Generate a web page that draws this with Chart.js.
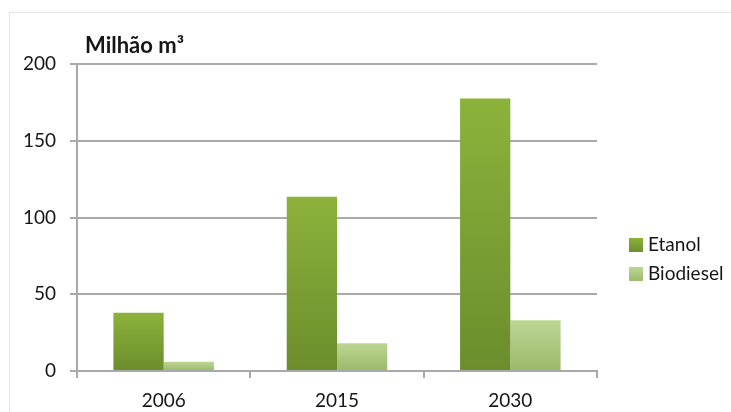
<!DOCTYPE html>
<html>
<head>
<meta charset="utf-8">
<script src="https://cdn.jsdelivr.net/npm/chart.js@4.4.0/dist/chart.umd.min.js"></script>
<style>
    body { margin: 0; background: #fff; }
    #wrap { position: relative; width: 731px; height: 412px; overflow: hidden; font-family: Lato, sans-serif; }
    #frame { position: absolute; left: 9px; top: 12px; width: 760px; height: 440px; border: 1px solid #e4e4e4; }
    #unit { position: absolute; left: 85px; top: 31px; font-weight: bold; font-size: 22px; color: #161616; }
    canvas { position: absolute; left: 0; top: 0; }
    .lg { position: absolute; left: 629px; font-size: 19px; color: #161616; line-height: 20px; }
    .lg span { display: inline-block; width: 14px; height: 14px; margin-right: 5px; vertical-align: -1px; }
</style>
</head>
<body>
<div id="wrap">
    <div id="frame"></div>
    <canvas id="chart" width="731" height="412"></canvas>
    <div id="unit">Milhão m³</div>
    <div class="lg" style="top:234px"><span style="background:linear-gradient(#8db23b,#6d8f2d)"></span>Etanol</div>
    <div class="lg" style="top:263px"><span style="background:linear-gradient(#bcd692,#9dba6c)"></span>Biodiesel</div>
</div>
<script>
// ============= DATA =============
const categories = ['2006', '2015', '2030'];
const etanol = [38, 113.5, 177.5];
const biodiesel = [6, 18, 33];
const yTicks = [0, 50, 100, 150, 200];

// vertical gradient per bar, top colour -> bottom colour
function barGradient(top, bottom) {
    return (ctx) => {
        const chart = ctx.chart;
        const area = chart.chartArea;
        if (!area || ctx.parsed === undefined) return bottom;
        const y = chart.scales.y.getPixelForValue(ctx.parsed.y);
        const g = chart.ctx.createLinearGradient(0, y, 0, area.bottom);
        g.addColorStop(0, top);
        g.addColorStop(1, bottom);
        return g;
    };
}

const gridColor = '#a9a9a9';

new Chart(document.getElementById('chart'), {
    type: 'bar',
    data: {
        labels: categories,
        datasets: [
            {
                label: 'Etanol',
                data: etanol,
                backgroundColor: barGradient('#8db23b', '#6b8d2c'),
                borderWidth: 0
            },
            {
                label: 'Biodiesel',
                data: biodiesel,
                backgroundColor: barGradient('#bcd692', '#9bb86a'),
                borderWidth: 0
            }
        ]
    },
    options: {
        responsive: false,
        animation: false,
        layout: { padding: { top: 64, right: 134, bottom: 0, left: 0 } },
        datasets: { bar: { categoryPercentage: 0.58, barPercentage: 1 } },
        plugins: {
            legend: { display: false },
            tooltip: { enabled: false }
        },
        scales: {
            x: {
                afterFit: (scale) => { scale.height = 41; },
                grid: { drawOnChartArea: false, color: gridColor, lineWidth: 2, tickLength: 7 },
                border: { color: gridColor, width: 2 },
                ticks: { color: '#161616', font: { family: 'Lato', size: 19 }, padding: 11 }
            },
            y: {
                min: 0,
                max: 200,
                afterBuildTicks: (scale) => { scale.ticks = yTicks.map(v => ({ value: v })); },
                afterFit: (scale) => { scale.width = 77; },
                grid: { color: gridColor, lineWidth: 2, tickLength: 7 },
                border: { color: gridColor, width: 2 },
                ticks: { color: '#161616', font: { family: 'Lato', size: 19 }, padding: 14 }
            }
        }
    }
});
</script>
</body>
</html>
